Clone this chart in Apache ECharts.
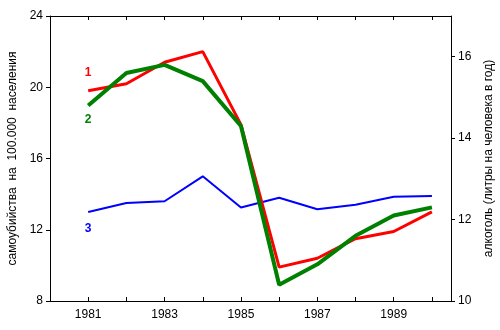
<!DOCTYPE html>
<html>
<head>
<meta charset="utf-8">
<script src="https://cdn.jsdelivr.net/npm/echarts@6/dist/echarts.min.js"></script>
<style>
html, body { margin: 0; padding: 0; background: #fff; }
#chart { width: 500px; height: 330px; }
</style>
</head>
<body>
<div id="chart"></div>
<script>
// годы
var years = [1981, 1982, 1983, 1984, 1985, 1986, 1987, 1988, 1989, 1990];
// 1 - самоубийства (левая ось)
var suicides = [19.8, 20.2, 21.4, 22.0, 17.9, 9.9, 10.4, 11.5, 11.9, 13.0];
// 2 - алкоголь (правая ось)
var alcohol = [14.8, 15.6, 15.8, 15.4, 14.3, 10.4, 10.9, 11.6, 12.1, 12.3];
// 3 - третья кривая (левая ось)
var third = [13.0, 13.5, 13.6, 15.0, 13.25, 13.8, 13.15, 13.4, 13.85, 13.9];

var leftTicks = [8, 12, 16, 20, 24];
var rightTicks = [10, 12, 14, 16];

function pairs(vals, lbl, col, off) {
	return vals.map(function (v, i) {
		var item = { value: [years[i], v] };
		if (i === 0) {
			item.label = {
				show: true, formatter: lbl, position: 'inside', offset: off,
				color: col, fontWeight: 'bold', fontSize: 12, fontFamily: 'Liberation Sans'
			};
		}
		return item;
	});
}

var font = 'Liberation Sans';
var myChart = echarts.init(document.getElementById('chart'));
var option = {
	backgroundColor: '#fff',
	animation: false,
	grid: { left: 50, right: 49, top: 16, bottom: 29, containLabel: false, outerBoundsMode: 'none' },
	xAxis: [{
		type: 'value', min: 1980, max: 1990.5, interval: 1,
		axisLine: { lineStyle: { color: '#000' } },
		axisTick: { inside: true, length: 4, lineStyle: { color: '#000' } },
		splitLine: { show: false },
		axisLabel: {
			color: '#000', fontSize: 12, fontFamily: font, margin: 8,
			formatter: function (v) { return (v % 2 === 1 && v <= 1990) ? String(v) : ''; }
		}
	}, {
		type: 'value', position: 'top', min: 1980, max: 1990.5, interval: 1,
		axisLine: { show: true, lineStyle: { color: '#000' } },
		axisTick: { show: true, inside: true, length: 4, lineStyle: { color: '#000' } },
		splitLine: { show: false },
		axisLabel: { show: false }
	}],
	yAxis: [{
		type: 'value', position: 'left', min: leftTicks[0], max: leftTicks[leftTicks.length - 1], interval: 4,
		name: 'самоубийства  на  100.000  населения',
		nameLocation: 'middle', nameGap: 29, nameRotate: 90,
		nameTextStyle: { color: '#000', fontSize: 12, fontFamily: font },
		axisLine: { show: true, lineStyle: { color: '#000' } },
		axisTick: { show: true, length: 4, lineStyle: { color: '#000' } },
		splitLine: { show: false },
		axisLabel: { color: '#000', fontSize: 12, fontFamily: font, margin: 7 }
	}, {
		type: 'value', position: 'right', min: rightTicks[0], max: 17, interval: 2,
		name: 'алкоголь (литры на человека в год)',
		nameLocation: 'middle', nameGap: 29, nameRotate: 90,
		nameTextStyle: { color: '#000', fontSize: 12, fontFamily: font },
		axisLine: { show: true, lineStyle: { color: '#000' } },
		axisTick: { show: true, length: 4, lineStyle: { color: '#000' } },
		splitLine: { show: false },
		axisLabel: { color: '#000', fontSize: 12, fontFamily: font, margin: 7, showMaxLabel: false }
	}],
	series: [{
		name: '3', type: 'line', yAxisIndex: 0,
		data: pairs(third, '3', '#0000ff', [0, 17]),
		symbol: 'circle', symbolSize: 0,
		lineStyle: { color: '#0000ff', width: 2 },
		itemStyle: { color: '#0000ff' }
	}, {
		name: '1', type: 'line', yAxisIndex: 0,
		data: pairs(suicides, '1', '#ff0000', [0, -18]),
		symbol: 'circle', symbolSize: 0,
		lineStyle: { color: '#ff0000', width: 3 },
		itemStyle: { color: '#ff0000' }
	}, {
		name: '2', type: 'line', yAxisIndex: 1,
		data: pairs(alcohol, '2', '#008000', [0, 14]),
		symbol: 'circle', symbolSize: 0,
		lineStyle: { color: '#008000', width: 4 },
		itemStyle: { color: '#008000' }
	}]
};
myChart.setOption(option);
</script>
</body>
</html>
